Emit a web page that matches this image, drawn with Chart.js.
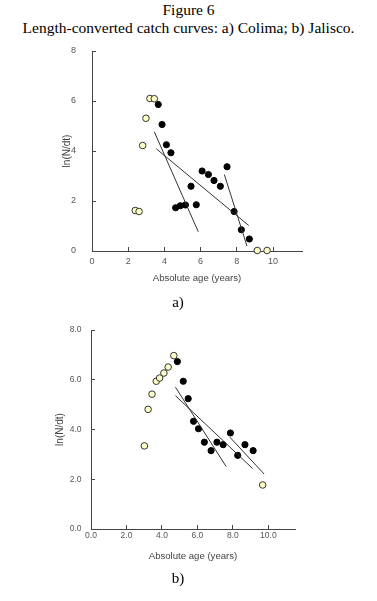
<!doctype html>
<html lang="en">
<head>
  <meta charset="utf-8">
  <title>Figure 6</title>
  <style>
    * { margin: 0; padding: 0; }
    body { width: 377px; height: 601px; background: white; position: relative; font-family: 'Liberation Serif', serif; color: black; }
    .title { position: absolute; left: 0; width: 377px; text-align: center; font-size: 15.5px; line-height: 18px; }
    .cap { position: absolute; width: 40px; text-align: center; font-size: 15px; line-height: 18px; }
    .box { position: absolute; left: 0; width: 320px; }
  </style>
</head>
<body>
  <div class="title" style="top: 1px;">Figure 6</div>
  <div class="title" style="top: 19px;">Length-converted catch curves: a) Colima; b) Jalisco.</div>

  <div class="box" style="top: 40px; height: 255px;"><canvas id="chartA"></canvas></div>
  <div class="cap" style="left: 158px; top: 293px;">a)</div>

  <div class="box" style="top: 310px; height: 260px;"><canvas id="chartB"></canvas></div>
  <div class="cap" style="left: 158px; top: 569px;">b)</div>

  <script src="https://cdn.jsdelivr.net/npm/chart.js"></script>
  <script>
    // a) Colima
    const openAX = [2.39, 2.6, 2.8, 2.98, 3.2, 3.44, 9.13, 9.67];
    const openAY = [1.62, 1.58, 4.22, 5.31, 6.1, 6.09, 0.02, 0.02];
    const fillAX = [3.66, 3.87, 4.11, 4.36, 4.62, 4.88, 5.16, 5.47, 5.76, 6.08, 6.43, 6.74, 7.09, 7.46, 7.85, 8.25, 8.69];
    const fillAY = [5.86, 5.06, 4.25, 3.93, 1.73, 1.81, 1.84, 2.59, 1.85, 3.2, 3.06, 2.82, 2.59, 3.37, 1.58, 0.85, 0.48];
    // regression lines: [x1, y1, x2, y2]
    const linesA = [
      [3.44, 4.77, 5.87, 0.77],
      [3.55, 4.09, 8.66, 1.02],
      [7.31, 3.06, 8.56, 0.2]
    ];

    // b) Jalisco
    const openBX = [3.01, 3.22, 3.44, 3.68, 3.87, 4.11, 4.35, 4.67, 9.68];
    const openBY = [3.34, 4.81, 5.42, 5.94, 6.07, 6.27, 6.51, 6.97, 1.77];
    const fillBX = [4.87, 5.2, 5.48, 5.78, 6.06, 6.39, 6.77, 7.1, 7.45, 7.86, 8.27, 8.68, 9.14];
    const fillBY = [6.73, 5.94, 5.24, 4.33, 4.03, 3.49, 3.15, 3.49, 3.39, 3.86, 2.96, 3.39, 3.15];
    const linesB = [
      [4.76, 5.70, 7.62, 2.51],
      [4.76, 5.36, 9.11, 2.43],
      [7.83, 3.69, 9.76, 2.21]
    ];

    const xTicks = [0, 2, 4, 6, 8, 10];
    const yTicks = [0, 2, 4, 6, 8];
    const xTitle = 'Absolute age (years)';
    const yTitle = 'ln(N/dt)';

    const sans = "'Liberation Sans', Arial, sans-serif";
    const axisColor = '#444';

    function pts(xs, ys) {
      return xs.map((x, i) => ({ x: x, y: ys[i] }));
    }

    function buildDatasets(openX, openY, fillX, fillY, lines) {
      const ds = lines.map(l => ({
        type: 'line',
        data: [{ x: l[0], y: l[1] }, { x: l[2], y: l[3] }],
        borderColor: '#333',
        borderWidth: 1,
        pointRadius: 0,
        showLine: true
      }));
      ds.push({
        data: pts(openX, openY),
        backgroundColor: '#ffffc8',
        borderColor: '#333',
        borderWidth: 1,
        pointRadius: 3.3,
        clip: false
      });
      ds.push({
        data: pts(fillX, fillY),
        backgroundColor: '#000',
        borderColor: '#000',
        borderWidth: 1,
        pointRadius: 3.1,
        clip: false
      });
      return ds;
    }

    function drawChart(id, datasets, s) {
      new Chart(document.getElementById(id), {
        type: 'scatter',
        data: { datasets: datasets },
        options: {
          responsive: true,
          maintainAspectRatio: false,
          animation: false,
          layout: { padding: s.padding },
          plugins: { legend: { display: false }, tooltip: { enabled: false } },
          scales: {
            x: {
              type: 'linear',
              min: 0,
              max: s.xMax,
              afterFit: (scale) => { scale.height = 35; },
              afterBuildTicks: (scale) => { scale.ticks = xTicks.map(v => ({ value: v })); },
              grid: { drawOnChartArea: false, tickLength: -4, color: axisColor },
              border: { color: axisColor, width: 1 },
              ticks: {
                padding: s.xPad,
                color: '#555',
                font: { family: sans, size: s.tickSize },
                callback: (v) => s.fmt(v)
              },
              title: {
                display: true,
                text: xTitle,
                color: '#444',
                padding: { top: 0, bottom: 2 },
                font: { family: sans, size: 9.6 }
              }
            },
            y: {
              type: 'linear',
              min: 0,
              max: 8,
              afterFit: (scale) => {
                scale.width = s.yWidth;
                // tick padding would otherwise push the top of the plot down
                scale.paddingTop = 6;
                scale.paddingBottom = 6;
              },
              afterBuildTicks: (scale) => { scale.ticks = yTicks.map(v => ({ value: v })); },
              grid: { drawOnChartArea: false, tickLength: -4, color: axisColor },
              border: { color: axisColor, width: 1 },
              ticks: {
                padding: s.yPad,
                color: '#555',
                font: { family: sans, size: s.tickSize },
                callback: (v) => s.fmt(v)
              },
              title: {
                display: true,
                text: yTitle,
                color: '#444',
                padding: { top: 4, bottom: 0 },
                font: { family: sans, size: 10 }
              }
            }
          }
        }
      });
    }

    drawChart('chartA', buildDatasets(openAX, openAY, fillAX, fillAY, linesA), {
      xMax: 11.6,
      padding: { left: 57, right: 18, top: 11, bottom: 9 },
      yWidth: 35,
      xPad: 9,
      yPad: 20,
      tickSize: 9,
      fmt: (v) => String(v)
    });

    drawChart('chartB', buildDatasets(openBX, openBY, fillBX, fillBY, linesB), {
      xMax: 11.5,
      padding: { left: 50, right: 25, top: 20, bottom: 6 },
      yWidth: 41,
      xPad: 5.5,
      yPad: 13.5,
      tickSize: 8.5,
      fmt: (v) => v.toFixed(1)
    });
  </script>
</body>
</html>
